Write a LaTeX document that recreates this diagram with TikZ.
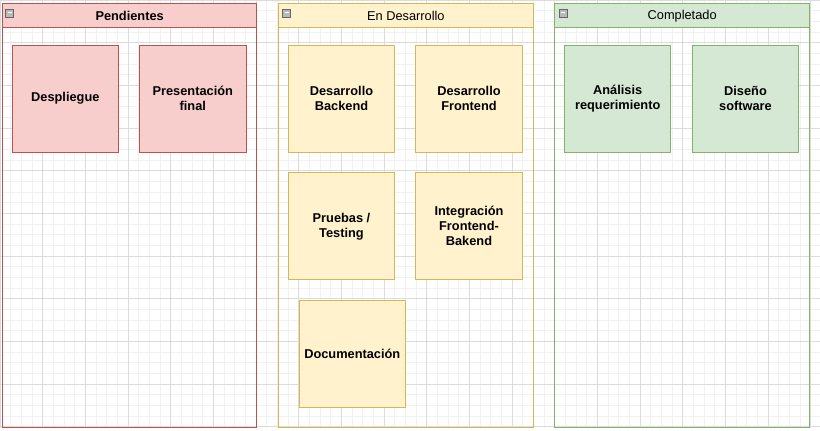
\documentclass[tikz,border=0pt]{standalone}
\usepackage{fontspec}
\setmainfont{Liberation Sans}
\definecolor{redfill}{HTML}{F8CECC}
\definecolor{redline}{HTML}{B85450}
\definecolor{yelfill}{HTML}{FFF2CC}
\definecolor{yelline}{HTML}{D6B656}
\definecolor{grnfill}{HTML}{D5E8D4}
\definecolor{grnline}{HTML}{82B366}
\definecolor{gridminor}{HTML}{F1F1F1}
\definecolor{gridmajor}{HTML}{DCDCDC}
\begin{document}
\begin{tikzpicture}[x=1pt,y=-1pt,
  lane/.style={draw, line width=1pt, minimum width=#1, minimum height=424pt, anchor=north west, inner sep=0pt},
  lanehead/.style={draw, line width=1pt, minimum width=#1, minimum height=24pt, anchor=north west, inner sep=0pt},
  headtext/.style={font=\fontsize{12.8}{15}\selectfont, text=black},
  card/.style={draw, line width=1pt, minimum width=106.5pt, minimum height=106.7pt, inner sep=0pt, align=center, font=\fontsize{12.8}{15}\selectfont\bfseries, text=black},
  redcard/.style={card, fill=redfill, draw=redline},
  yelcard/.style={card, fill=yelfill, draw=yelline},
  grncard/.style={card, fill=grnfill, draw=grnline},
  icon/.style={draw=gray!80!black, fill=gray!55, line width=0.6pt, minimum width=8pt, minimum height=8pt, inner sep=0pt}
]
\useasboundingbox (0,0) rectangle (820,431);
\fill[white] (0,0) rectangle (820,431);
% grid
\foreach \i in {0,...,77} {\draw[gridminor, line width=0.8pt] (\i*10.667,0) -- (\i*10.667,427.5);}
\foreach \j in {0,...,40} {\draw[gridminor, line width=0.8pt] (0,\j*10.667) -- (820,\j*10.667);}
\foreach \i in {0,...,19} {\draw[gridmajor, line width=0.8pt] (\i*42.667,0) -- (\i*42.667,427.5);}
\foreach \j in {0,...,10} {\draw[gridmajor, line width=0.8pt] (0,\j*42.667) -- (820,\j*42.667);}

% lanes
\node[lane=254.3pt, draw=redline] (pend) at (2,3.3) {};
\node[lanehead=254.3pt, draw=redline, fill=redfill] (pendh) at (2,3.3) {};
\node[headtext, font=\fontsize{12.8}{15}\selectfont\bfseries] (pendt) at (pendh.center) {Pendientes};
\node[icon] (pendi) at (9.6,12.8) {};
\draw[white, line width=1.2pt] ([xshift=-2pt]pendi.center) -- ([xshift=2pt]pendi.center);

\node[lane=255.3pt, draw=yelline] (desa) at (277.7,3.3) {};
\node[lanehead=255.3pt, draw=yelline, fill=yelfill] (desah) at (277.7,3.3) {};
\node[headtext] (desat) at (desah.center) {En Desarrollo};
\node[icon] (desai) at (286.5,12.8) {};
\draw[white, line width=1.2pt] ([xshift=-2pt]desai.center) -- ([xshift=2pt]desai.center);

\node[lane=255.3pt, draw=grnline] (comp) at (554,3.3) {};
\node[lanehead=255.3pt, draw=grnline, fill=grnfill] (comph) at (554,3.3) {};
\node[headtext] (compt) at (comph.center) {Completado};
\node[icon] (compi) at (563.3,12.8) {};
\draw[white, line width=1.2pt] ([xshift=-2pt]compi.center) -- ([xshift=2pt]compi.center);

% cards
\node[redcard] (despliegue) at (65.3,98.7) {Despliegue};
\node[redcard] (presentacion) at (192.8,98.7) {Presentación\\final};
\node[yelcard] (backend) at (341.5,98.7) {Desarrollo\\Backend};
\node[yelcard] (frontend) at (469,98.7) {Desarrollo\\Frontend};
\node[yelcard] (pruebas) at (341.5,226.3) {Pruebas /\\Testing};
\node[yelcard] (integracion) at (469,226.3) {Integración\\Frontend-\\Bakend};
\node[yelcard] (documentacion) at (352.3,353.8) {Documentación};
\node[grncard] (analisis) at (617.7,98.7) {Análisis\\requerimiento};
\node[grncard] (diseno) at (745.5,98.7) {Diseño\\software};
\end{tikzpicture}
\end{document}
